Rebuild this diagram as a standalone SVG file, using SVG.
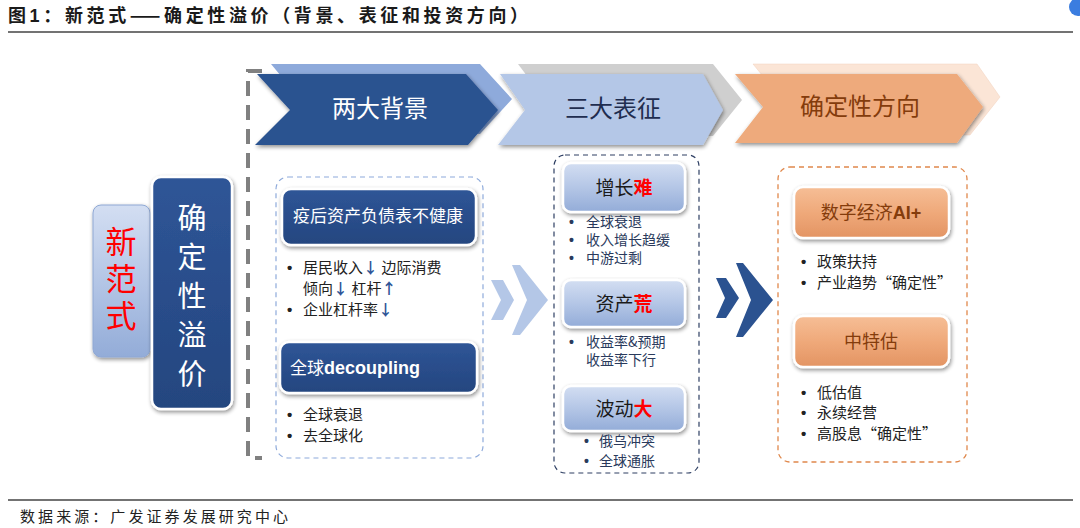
<svg xmlns="http://www.w3.org/2000/svg" width="1080" height="528" viewBox="0 0 1080 528">
<defs>
<linearGradient id="gBlueLight" x1="0" y1="0" x2="0" y2="1">
<stop offset="0" stop-color="#d3def2"/><stop offset="0.5" stop-color="#b4c6e6"/><stop offset="1" stop-color="#93acd8"/>
</linearGradient>
<linearGradient id="gOrange" x1="0" y1="0" x2="0" y2="1">
<stop offset="0" stop-color="#f6be96"/><stop offset="0.5" stop-color="#efa97a"/><stop offset="1" stop-color="#e39463"/>
</linearGradient>
<linearGradient id="gDark" x1="0" y1="0" x2="0" y2="1">
<stop offset="0" stop-color="#2f5597"/><stop offset="1" stop-color="#24467f"/>
</linearGradient>
<filter id="sh" x="-10%" y="-10%" width="130%" height="140%">
<feGaussianBlur in="SourceAlpha" stdDeviation="2"/>
<feOffset dx="1" dy="2" result="o"/>
<feComponentTransfer><feFuncA type="linear" slope="0.45"/></feComponentTransfer>
<feMerge><feMergeNode/><feMergeNode in="SourceGraphic"/></feMerge>
</filter>
<style>
.cjk{font-family:"Noto Sans CJK SC","Noto Sans",sans-serif;}
.lat{font-family:"Liberation Sans",Arial,sans-serif;font-weight:bold;}
.dot{font-family:"Liberation Sans",Arial,sans-serif;font-weight:bold;}
.bul{font-family:"Noto Sans CJK SC",sans-serif;font-size:14px;fill:#2a3a5c;}
.bul2{font-family:"Noto Sans CJK SC",sans-serif;font-size:15px;fill:#222;}
.hdr{font-family:"Noto Sans CJK SC",sans-serif;font-size:24px;text-anchor:middle;}
.dbox{fill:url(#gDark);stroke:#fff;stroke-width:2.5;}
.lbox{fill:url(#gBlueLight);stroke:#fff;stroke-width:2.5;}
.obox{fill:url(#gOrange);stroke:#fff;stroke-width:2.5;}
.up{fill:#2f5597;font-weight:bold;}
</style>
</defs>
<rect width="1080" height="528" fill="#ffffff"/>

<g id="title">
<text x="8" y="22" class="cjk" font-size="18" font-weight="bold" fill="#1a1a1a" textLength="520" lengthAdjust="spacing">图<tspan class="lat">1</tspan>：新范式——确定性溢价（背景、表征和投资方向）</text>
<line x1="8" y1="32" x2="1073" y2="32" stroke="#444" stroke-width="1.5"/>
<circle cx="1078" cy="7" r="9" fill="#3b7de0"/>
</g>

<g id="footer">
<line x1="8" y1="500" x2="1073" y2="500" stroke="#444" stroke-width="1.5"/>
<text x="20" y="522" class="cjk" font-size="15" fill="#222" textLength="268" lengthAdjust="spacing">数据来源：广发证券发展研究中心</text>
</g>

<g id="bracket">
<path d="M262,71 H248 V458 H262" fill="none" stroke="#808080" stroke-width="4" stroke-dasharray="15,9"/>
</g>

<g id="chevron-beijing">
<polygon points="271,64 480,64 512,99 480,134 271,134 300,99" fill="#8eaadb"/>
<polygon points="257,74 466,74 498,110 468,145 255,145 290,110" fill="#2b5290" filter="url(#sh)"/>
<text x="380" y="117" class="hdr" fill="#ffffff">两大背景</text>
</g>
<g id="chevron-biaozheng">
<polygon points="518,64 713,64 742,100 713,136 518,136 545,100" fill="#cfcfcf"/>
<polygon points="500,74 703,74 723,110 703,145 498,145 525,110" fill="#b4c7e7" filter="url(#sh)"/>
<text x="613" y="117" class="hdr" fill="#1f2d4f">三大表征</text>
</g>
<g id="chevron-fangxiang">
<polygon points="753,64 977,64 1000,97 970,135 753,135 780,97" fill="#fbe5d6" stroke="#f0d0bc" stroke-width="0.5"/>
<polygon points="735,74 957,74 983,107 957,143 735,143 763,107" fill="#eeaa7b" filter="url(#sh)"/>
<text x="860" y="115" class="hdr" fill="#843c0c">确定性方向</text>
</g>

<g id="node-xinfanshi">
<rect x="93" y="205" width="57" height="152" rx="8" fill="url(#gBlueLight)" stroke="#8fa8d4" stroke-width="1" filter="url(#sh)"/>
<text x="121" y="226" class="cjk" font-size="31" fill="#ff0000" writing-mode="vertical-rl" letter-spacing="6">新范式</text>
</g>

<g id="node-queding">
<rect x="152" y="177" width="80" height="232" rx="9" class="dbox" filter="url(#sh)"/>
<text x="192" y="203" class="cjk" font-size="29" fill="#ffffff" writing-mode="vertical-rl" letter-spacing="10">确定性溢价</text>
</g>

<g id="group-beijing">
<rect x="276" y="177" width="207" height="281" rx="12" fill="none" stroke="#8eaadb" stroke-width="1.2" stroke-dasharray="5,4"/>
<g id="node-yihou">
<rect x="282" y="189" width="194" height="56" rx="9" class="dbox" filter="url(#sh)"/>
<text x="378" y="222" class="cjk" font-size="17" fill="#ffffff" text-anchor="middle">疫后资产负债表不健康</text>
</g>
<text class="bul2"><tspan x="287" y="273" class="dot">•</tspan><tspan x="303" y="273">居民收入<tspan class="up">↓</tspan> 边际消费</tspan></text>
<text class="bul2"><tspan x="303" y="294">倾向<tspan class="up">↓</tspan> 杠杆<tspan class="up">↑</tspan></tspan></text>
<text class="bul2"><tspan x="287" y="315" class="dot">•</tspan><tspan x="303" y="315">企业杠杆率<tspan class="up">↓</tspan></tspan></text>
<g id="node-decoupling">
<rect x="280" y="342" width="197" height="51" rx="9" class="dbox" filter="url(#sh)"/>
<text x="290" y="374" class="cjk" font-size="17" fill="#ffffff">全球<tspan class="lat" font-size="18">decoupling</tspan></text>
</g>
<text class="bul2"><tspan x="287" y="420" class="dot">•</tspan><tspan x="303" y="420">全球衰退</tspan></text>
<text class="bul2"><tspan x="287" y="441" class="dot">•</tspan><tspan x="303" y="441">去全球化</tspan></text>
</g>

<g id="connectors">
<polygon points="491,280 503,280 514,300 503,320 491,320 501,300" fill="#b4c7e7"/>
<polygon points="512,265 520,265 548,300 520,335 512,335 527,300" fill="#b4c7e7"/>
<polygon points="716,278 726,278 739,298 726,318 716,318 725,298" fill="#2b5290"/>
<polygon points="736,263 743,263 773,300 743,337 736,337 751,300" fill="#2b5290"/>
</g>

<g id="group-biaozheng">
<rect x="554" y="155" width="145" height="318" rx="11" fill="none" stroke="#2e3f63" stroke-width="1.2" stroke-dasharray="5,4"/>
<g id="node-zengzhang">
<rect x="563" y="163" width="122" height="49" rx="8" class="lbox" filter="url(#sh)"/>
<text x="624" y="195" class="cjk" font-size="19" text-anchor="middle" fill="#1a1a1a">增长<tspan fill="#ff0000" font-weight="bold">难</tspan></text>
</g>
<text class="bul"><tspan x="569" y="227" class="dot">•</tspan><tspan x="586" y="227">全球衰退</tspan></text>
<text class="bul"><tspan x="569" y="245" class="dot">•</tspan><tspan x="586" y="245">收入增长趋缓</tspan></text>
<text class="bul"><tspan x="569" y="263" class="dot">•</tspan><tspan x="586" y="263">中游过剩</tspan></text>
<g id="node-zichan">
<rect x="563" y="280" width="122" height="47" rx="8" class="lbox" filter="url(#sh)"/>
<text x="624" y="311" class="cjk" font-size="19" text-anchor="middle" fill="#1a1a1a">资产<tspan fill="#ff0000" font-weight="bold">荒</tspan></text>
</g>
<text class="bul"><tspan x="569" y="347" class="dot">•</tspan><tspan x="586" y="347">收益率&amp;预期</tspan></text>
<text class="bul"><tspan x="586" y="365">收益率下行</tspan></text>
<g id="node-bodong">
<rect x="563" y="386" width="122" height="45" rx="8" class="lbox" filter="url(#sh)"/>
<text x="624" y="416" class="cjk" font-size="19" text-anchor="middle" fill="#1a1a1a">波动<tspan fill="#ff0000" font-weight="bold">大</tspan></text>
</g>
<text class="bul"><tspan x="584" y="446" class="dot">•</tspan><tspan x="599" y="446">俄乌冲突</tspan></text>
<text class="bul"><tspan x="584" y="466" class="dot">•</tspan><tspan x="599" y="466">全球通胀</tspan></text>
</g>

<g id="group-fangxiang">
<rect x="778" y="167" width="189" height="295" rx="12" fill="none" stroke="#e0884c" stroke-width="1.3" stroke-dasharray="5,4"/>
<g id="node-shuzi">
<rect x="794" y="187" width="155" height="51" rx="9" class="obox" filter="url(#sh)"/>
<text x="871" y="219" class="cjk" font-size="18" text-anchor="middle" fill="#843c0c">数字经济<tspan class="lat" font-size="18">AI+</tspan></text>
</g>
<text class="bul2"><tspan x="801" y="267" class="dot">•</tspan><tspan x="817" y="267">政策扶持</tspan></text>
<text class="bul2"><tspan x="801" y="288" class="dot">•</tspan><tspan x="817" y="288">产业趋势“确定性”</tspan></text>
<g id="node-zhongte">
<rect x="794" y="316" width="155" height="51" rx="9" class="obox" filter="url(#sh)"/>
<text x="871" y="348" class="cjk" font-size="18" text-anchor="middle" fill="#843c0c">中特估</text>
</g>
<text class="bul2"><tspan x="801" y="398" class="dot">•</tspan><tspan x="817" y="398">低估值</tspan></text>
<text class="bul2"><tspan x="801" y="418" class="dot">•</tspan><tspan x="817" y="418">永续经营</tspan></text>
<text class="bul2"><tspan x="801" y="439" class="dot">•</tspan><tspan x="817" y="439">高股息“确定性”</tspan></text>
</g>
</svg>
